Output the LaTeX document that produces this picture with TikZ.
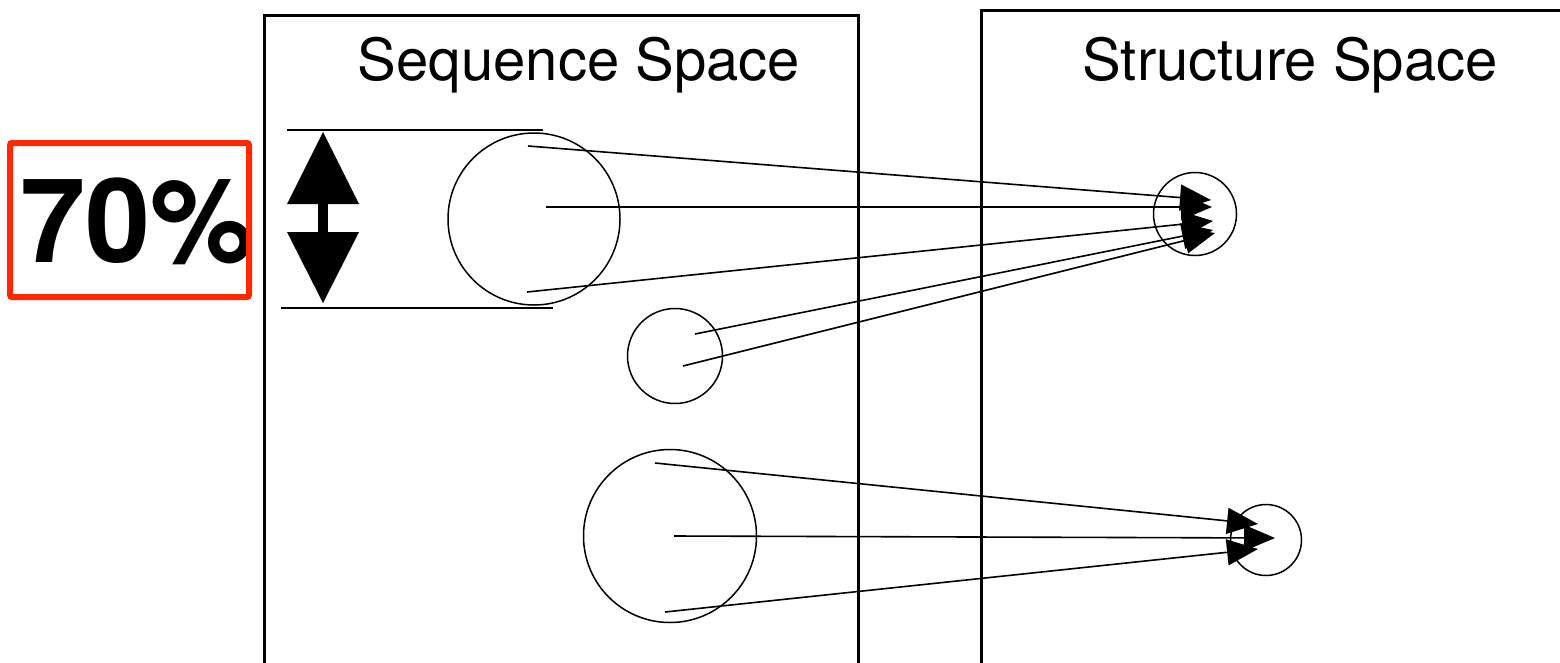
\documentclass[tikz,border=0pt]{standalone}
\usepackage{fontspec}
\setmainfont{TeX Gyre Heros}
\usetikzlibrary{arrows.meta}
\begin{document}
\begin{tikzpicture}[x=1pt,y=-1pt,
  frame/.style={line width=3pt},
  ring/.style={circle,draw,line width=1.5pt,inner sep=0pt},
  conn/.style={line width=1.6pt,-{Triangle[length=31pt,width=26pt]}},
  guide/.style={line width=2pt},
  title/.style={font=\fontsize{58}{60}\selectfont,anchor=base,inner sep=0pt}]
\useasboundingbox (0,0) rectangle (1560,662);
% frames
\draw[frame] (264,670) -- (264,15) -- (858,15) -- (858,670);
\draw[frame] (981,670) -- (981,10) -- (1570,10);
\node[title] (seq) at (579,80) {Sequence Space};
\node[title] (str) at (1290,80) {Structure Space};
% 70% box
\node[anchor=base west,inner sep=0pt,font=\fontsize{117}{120}\selectfont\bfseries] (pct) at (20,262) {70\%};
\draw[line width=6pt,color={rgb,255:red,255;green,40;blue,0},rounded corners=2pt] (10,143) rectangle (249,297);
% guide lines
\draw[guide] (287,130) -- (543,130);
\draw[guide] (281,308) -- (553,308);
% double arrow
\fill (323,132) -- (359,204) -- (287,204) -- cycle;
\fill (318,204) rectangle (328,232);
\fill (287,232) -- (359,232) -- (323,303) -- cycle;
% circles
\node[ring,minimum size=172pt] (c1) at (534,219) {};
\node[ring,minimum size=95pt] (c2) at (675,356) {};
\node[ring,minimum size=173pt] (c3) at (670,536) {};
\node[ring,minimum size=83pt] (t1) at (1195,214) {};
\node[ring,minimum size=71pt] (t2) at (1266,540) {};
% connector endpoints
\coordinate (a1s) at (528,146); \coordinate (a1e) at (1211,200);
\coordinate (a2s) at (546,207); \coordinate (a2e) at (1212,207);
\coordinate (a3s) at (527,292); \coordinate (a3e) at (1213,221);
\coordinate (a4s) at (695,334); \coordinate (a4e) at (1213,230);
\coordinate (a5s) at (683,366); \coordinate (a5e) at (1215,233);
\coordinate (b1s) at (655,463); \coordinate (b1e) at (1258,524);
\coordinate (b2s) at (674,536); \coordinate (b2e) at (1275,538);
\coordinate (b3s) at (665,612); \coordinate (b3e) at (1258,549);
\draw[conn] (a1s) -- (a1e);
\draw[conn] (a2s) -- (a2e);
\draw[conn] (a3s) -- (a3e);
\draw[conn] (a4s) -- (a4e);
\draw[conn] (a5s) -- (a5e);
\draw[conn] (b1s) -- (b1e);
\draw[conn] (b2s) -- (b2e);
\draw[conn] (b3s) -- (b3e);
\end{tikzpicture}
\end{document}
